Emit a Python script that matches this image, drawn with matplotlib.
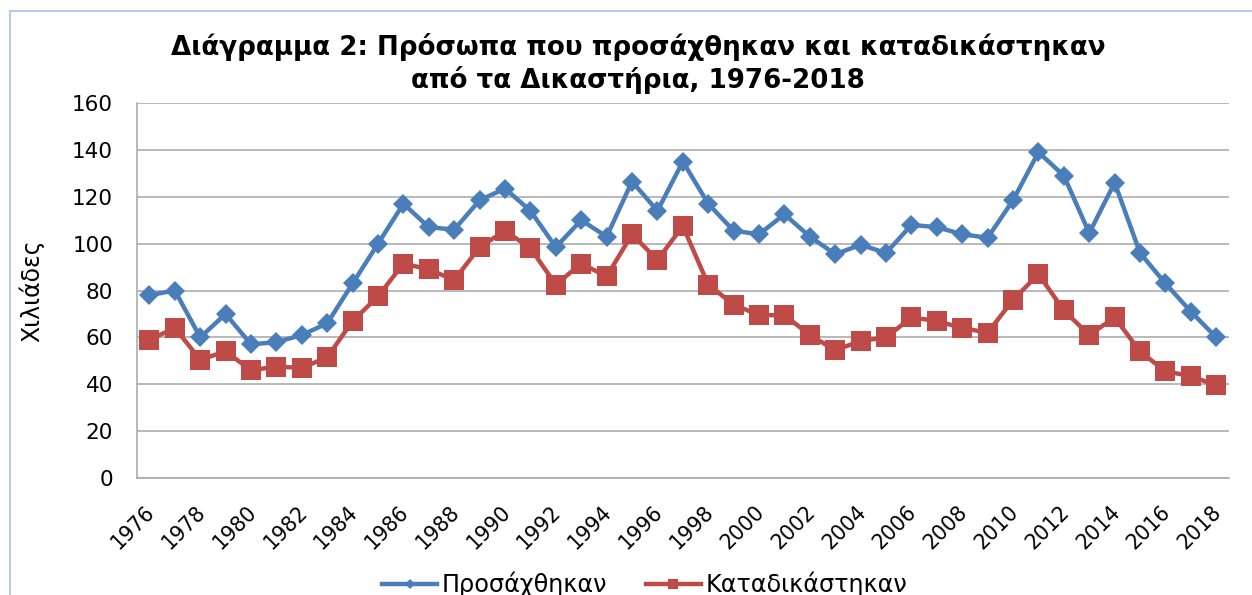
import matplotlib
matplotlib.use('Agg')
import matplotlib.pyplot as plt
from matplotlib.patches import Rectangle
from matplotlib.transforms import ScaledTranslation

# ------------------------------------------------------------
# Dados (em milhares)
# ------------------------------------------------------------
anos = list(range(1976, 2019))

prosachthikan = [78, 80, 60, 70, 57, 58, 61, 66, 83, 100,
                 117, 107, 106, 118.5, 123.5, 114, 98.5, 110, 103, 126.5,
                 114, 135, 117, 105.5, 104, 112.5, 103, 95.5, 99.5, 96,
                 108, 107, 104, 102.5, 118.5, 139, 129, 104.5, 126, 96,
                 83, 71, 60]

katadikastikan = [59, 64, 50.5, 54, 46, 47.5, 47, 51.5, 67, 77.5,
                  91.5, 89, 84.5, 98.5, 105.5, 98, 82.5, 91.5, 86, 104,
                  93, 107.5, 82.5, 74, 69.5, 69.5, 61, 54.5, 58.5, 60,
                  68.5, 67, 64, 62, 76, 87, 71.5, 61, 68.5, 54,
                  45.5, 43.5, 39.5]

titulo = 'Διάγραμμα 2: Πρόσωπα που προσάχθηκαν και καταδικάστηκαν\nαπό τα Δικαστήρια, 1976-2018'
rotulo_y = 'Χιλιάδες'
nomes = ['Προσάχθηκαν', 'Καταδικάστηκαν']

azul = '#4A7EBB'
vermelho = '#BE4B48'

# ------------------------------------------------------------
# Figura
# ------------------------------------------------------------
plt.rcParams['font.family'] = ['DejaVu Sans']

fig = plt.figure(figsize=(12.52, 5.95), dpi=100)
ax = fig.add_axes([0.1092, 0.1966, 0.8724, 0.6303])

# moldura azul clara do gráfico (cortada à direita e embaixo)
fig.patches.append(Rectangle((10 / 1252, -0.1), 1.2, 1 - 11 / 595 + 0.1,
                             transform=fig.transFigure, fill=False,
                             edgecolor='#B7CBE8', linewidth=1.5))

ax.plot(anos, prosachthikan, color=azul, linewidth=3.2, marker='D',
        markersize=10, markeredgewidth=0, label=nomes[0], zorder=3)
ax.plot(anos, katadikastikan, color=vermelho, linewidth=3.2, marker='s',
        markersize=14, markeredgewidth=0, label=nomes[1], zorder=3)

ax.set_xlim(1975.5, 2018.5)
ax.set_ylim(0, 160)
ax.set_yticks(range(0, 161, 20))
ax.set_xticks(anos[::2])
ax.set_xticklabels([str(a) for a in anos[::2]], rotation=45, ha='right',
                   va='top', rotation_mode='anchor')

ax.tick_params(axis='both', length=0)
ax.tick_params(axis='y', pad=17, labelsize=15.5)
ax.tick_params(axis='x', pad=17, labelsize=14.8)

# desloca os rótulos do eixo x um pouco para a esquerda
desloc = ScaledTranslation(-5 / 100, 0, fig.dpi_scale_trans)
for rot in ax.get_xticklabels():
    rot.set_transform(rot.get_transform() + desloc)

ax.grid(axis='y', color='#A6A6A6', linewidth=1.1)
ax.set_axisbelow(True)
for lado in ['top', 'right']:
    ax.spines[lado].set_visible(False)
for lado in ['left', 'bottom']:
    ax.spines[lado].set_color('#A6A6A6')
    ax.spines[lado].set_linewidth(1.1)

ax.set_ylabel(rotulo_y, fontsize=17)
ax.yaxis.set_label_coords(-0.085, 0.5)

fig.text(0.5096, 0.893, titulo, ha='center', va='center', fontsize=18.8,
         fontweight='bold', linespacing=1.25)

fig.legend(loc='center', bbox_to_anchor=(0.515, 0.018), ncol=2, frameon=False,
           fontsize=17.2, markerscale=0.55, handlelength=2.3, columnspacing=1.6,
           handletextpad=0.2)

fig.savefig('out.png', dpi=100)
